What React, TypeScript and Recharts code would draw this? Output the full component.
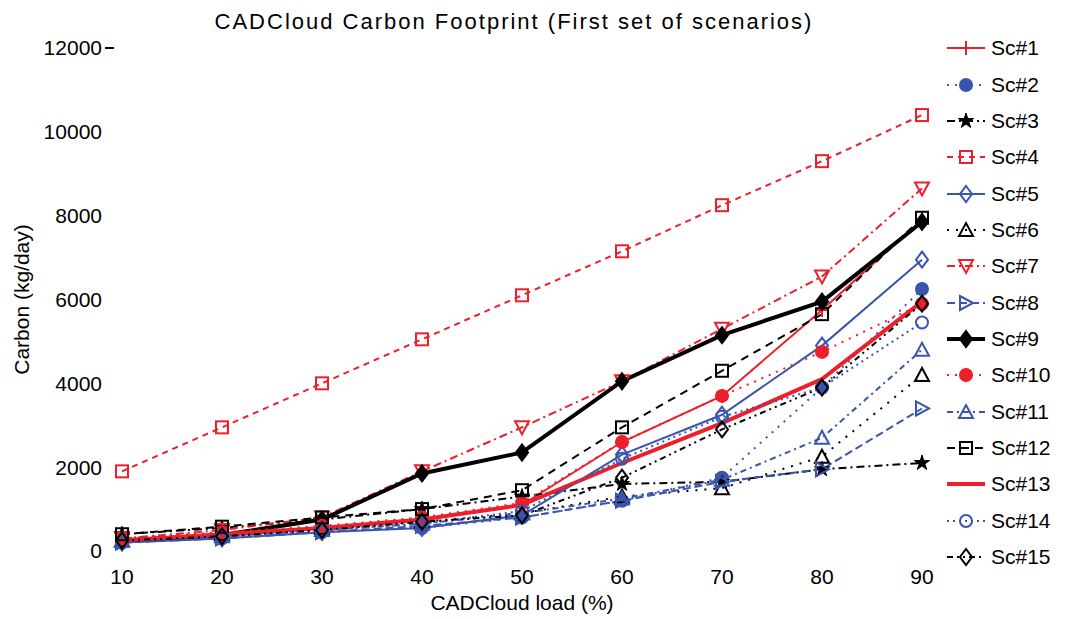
import React from 'react';
import { LineChart, Line, XAxis, YAxis, Legend } from 'recharts';

const loads = [10, 20, 30, 40, 50, 60, 70, 80, 90];
const xTicks = [10, 20, 30, 40, 50, 60, 70, 80, 90];
const yTicks = [0, 2000, 4000, 6000, 8000, 10000, 12000];

const sc1 = [200, 350, 550, 750, 1100, 2600, 3700, 5750, 7900];
const sc2 = [200, 300, 450, 550, 800, 1200, 1750, 3900, 6250];
const sc3 = [400, 550, 750, 1000, 1300, 1600, 1650, 1950, 2100];
const sc4 = [1900, 2950, 4000, 5050, 6100, 7150, 8250, 9300, 10400];
const sc5 = [200, 300, 450, 550, 850, 2300, 3250, 4900, 6950];
const sc6 = [250, 400, 550, 700, 900, 1300, 1500, 2250, 4200];
const sc7 = [300, 500, 800, 1900, 2950, 4050, 5300, 6550, 8650];
const sc8 = [200, 300, 450, 600, 800, 1200, 1650, 1950, 3400];
const sc9 = [250, 380, 750, 1850, 2350, 4050, 5150, 5950, 7850];
const sc10 = [300, 450, 600, 800, 1150, 2600, 3700, 4750, 5900];
const sc11 = [250, 350, 500, 650, 900, 1250, 1700, 2700, 4800];
const sc12 = [400, 580, 800, 1000, 1450, 2950, 4300, 5650, 7950];
const sc13 = [250, 400, 550, 750, 1100, 2100, 3050, 4100, 5950];
const sc14 = [200, 350, 500, 650, 950, 2200, 3200, 3900, 5450];
const sc15 = [250, 350, 500, 700, 850, 1750, 2900, 3900, 5900];

const RED = '#ec1f2a';
const BLUE = '#3a55ad';
const BLACK = '#000000';

type Shape = 'plus' | 'circle' | 'square' | 'diamond' | 'triangle' | 'triangleDown' | 'triangleRight' | 'star' | 'none';

interface SeriesDef {
  key: string;
  name: string;
  values: number[];
  color: string;
  width: number;
  dash?: string;
  shape: Shape;
  filled: boolean;
}

const series: SeriesDef[] = [
  { key: 'sc1', name: 'Sc#1', values: sc1, color: RED, width: 2, shape: 'plus', filled: false },
  { key: 'sc2', name: 'Sc#2', values: sc2, color: BLUE, width: 2, dash: '2 6', shape: 'circle', filled: true },
  { key: 'sc3', name: 'Sc#3', values: sc3, color: BLACK, width: 2, dash: '8 4 2 4', shape: 'star', filled: true },
  { key: 'sc4', name: 'Sc#4', values: sc4, color: RED, width: 2, dash: '6 5', shape: 'square', filled: false },
  { key: 'sc5', name: 'Sc#5', values: sc5, color: BLUE, width: 2, shape: 'diamond', filled: false },
  { key: 'sc6', name: 'Sc#6', values: sc6, color: BLACK, width: 2, dash: '2 7', shape: 'triangle', filled: false },
  { key: 'sc7', name: 'Sc#7', values: sc7, color: RED, width: 2, dash: '8 4 2 4', shape: 'triangleDown', filled: false },
  { key: 'sc8', name: 'Sc#8', values: sc8, color: BLUE, width: 2, dash: '8 4', shape: 'triangleRight', filled: false },
  { key: 'sc9', name: 'Sc#9', values: sc9, color: BLACK, width: 4, shape: 'diamond', filled: true },
  { key: 'sc10', name: 'Sc#10', values: sc10, color: RED, width: 2, dash: '2 6', shape: 'circle', filled: true },
  { key: 'sc11', name: 'Sc#11', values: sc11, color: BLUE, width: 2, dash: '6 4 2 4', shape: 'triangle', filled: false },
  { key: 'sc12', name: 'Sc#12', values: sc12, color: BLACK, width: 2, dash: '8 6', shape: 'square', filled: false },
  { key: 'sc13', name: 'Sc#13', values: sc13, color: RED, width: 4, shape: 'none', filled: false },
  { key: 'sc14', name: 'Sc#14', values: sc14, color: BLUE, width: 2, dash: '2 4', shape: 'circle', filled: false },
  { key: 'sc15', name: 'Sc#15', values: sc15, color: BLACK, width: 2, dash: '6 4 2 4 2 4', shape: 'diamond', filled: false },
];

const data = loads.map((x, i) => {
  const row: Record<string, number> = { x };
  series.forEach((s) => {
    row[s.key] = s.values[i];
  });
  return row;
});

function MarkerShape({ cx, cy, shape, color, filled }: { cx: number; cy: number; shape: Shape; color: string; filled: boolean }) {
  const fill = filled ? color : 'none';
  const sw = 2;
  const r = 6;
  switch (shape) {
    case 'plus':
      return (
        <g>
          <line x1={cx - r - 1} y1={cy} x2={cx + r + 1} y2={cy} stroke={color} strokeWidth={sw} />
          <line x1={cx} y1={cy - r - 1} x2={cx} y2={cy + r + 1} stroke={color} strokeWidth={sw} />
        </g>
      );
    case 'circle':
      return <circle cx={cx} cy={cy} r={r} fill={fill} stroke={color} strokeWidth={sw} />;
    case 'square':
      return <rect x={cx - r} y={cy - r} width={2 * r} height={2 * r} fill={fill} stroke={color} strokeWidth={sw} />;
    case 'diamond':
      return (
        <polygon
          points={`${cx},${cy - r - 2} ${cx + r},${cy} ${cx},${cy + r + 2} ${cx - r},${cy}`}
          fill={fill}
          stroke={color}
          strokeWidth={sw}
        />
      );
    case 'triangle':
      return (
        <polygon points={`${cx},${cy - r - 1} ${cx + r + 1},${cy + r} ${cx - r - 1},${cy + r}`} fill={fill} stroke={color} strokeWidth={sw} />
      );
    case 'triangleDown':
      return (
        <polygon points={`${cx},${cy + r + 1} ${cx + r + 1},${cy - r} ${cx - r - 1},${cy - r}`} fill={fill} stroke={color} strokeWidth={sw} />
      );
    case 'triangleRight':
      return (
        <polygon points={`${cx + r + 1},${cy} ${cx - r},${cy - r - 1} ${cx - r},${cy + r + 1}`} fill={fill} stroke={color} strokeWidth={sw} />
      );
    case 'star': {
      const pts: string[] = [];
      for (let k = 0; k < 10; k++) {
        const ang = (Math.PI / 5) * k - Math.PI / 2;
        const rr = k % 2 === 0 ? r + 2 : r * 0.5;
        pts.push(`${cx + rr * Math.cos(ang)},${cy + rr * Math.sin(ang)}`);
      }
      return <polygon points={pts.join(' ')} fill={fill} stroke={color} strokeWidth={1} />;
    }
    default:
      return <g />;
  }
}

const renderLegend = () => (
  <div style={{ width: 130, fontFamily: 'Liberation Sans, Arial, sans-serif', fontSize: 21 }}>
    {series.map((s) => (
      <div key={s.key} style={{ height: 36.36, display: 'flex', alignItems: 'center' }}>
        <svg width={44} height={30} style={{ display: 'block' }}>
          <line x1={2} y1={15} x2={40} y2={15} stroke={s.color} strokeWidth={s.width} strokeDasharray={s.dash} />
          <MarkerShape cx={21} cy={15} shape={s.shape} color={s.color} filled={s.filled} />
        </svg>
        <span style={{ color: '#000', marginLeft: 2 }}>{s.name}</span>
      </div>
    ))}
  </div>
);

const YTick = (props: any) => {
  const { x, y, payload } = props;
  return (
    <g>
      <text x={x} y={y} dy="0.355em" textAnchor="end" fill="#000" fontSize={21}>
        {payload.value}
      </text>
      {payload.value === 12000 ? <line x1={x + 3} y1={y} x2={x + 12} y2={y} stroke="#000" strokeWidth={2} /> : null}
    </g>
  );
};

export default function App() {
  return (
    <div style={{ position: 'relative', width: 1062, height: 611, fontFamily: 'Liberation Sans, Arial, sans-serif' }}>
      <div
        style={{
          position: 'absolute',
          top: 1,
          left: 0,
          width: 1012,
          textAlign: 'center',
          fontSize: 22,
          letterSpacing: 2,
          color: '#000',
          zIndex: 2,
        }}
      >
        CADCloud Carbon Footprint (First set of scenarios)
      </div>
      <LineChart width={1062} height={611} data={data} margin={{ top: 40, right: 18, bottom: 0, left: 10 }}>
        <XAxis
          dataKey="x"
          type="number"
          domain={[10, 90]}
          ticks={xTicks}
          axisLine={false}
          tickLine={false}
          tickSize={8}
          tickMargin={10}
          height={68}
          tick={{ fill: '#000', fontSize: 21 }}
          label={{ value: 'CADCloud load (%)', position: 'insideBottom', offset: 9, fill: '#000', fontSize: 21 }}
        />
        <YAxis
          type="number"
          domain={[0, 12000]}
          ticks={yTicks}
          axisLine={false}
          tickLine={false}
          tickSize={10}
          tickMargin={10}
          width={104}
          tick={YTick}
          label={{
            value: 'Carbon (kg/day)',
            angle: -90,
            position: 'insideLeft',
            offset: 4,
            fill: '#000',
            fontSize: 21,
            style: { textAnchor: 'middle' },
          }}
        />
        <Legend
          layout="vertical"
          align="right"
          verticalAlign="top"
          content={renderLegend}
          wrapperStyle={{ left: 937, top: 22, width: 130 }}
        />
        {series.map((s) => (
          <Line
            key={s.key}
            type="linear"
            dataKey={s.key}
            name={s.name}
            stroke={s.color}
            strokeWidth={s.width}
            strokeDasharray={s.dash}
            isAnimationActive={false}
            dot={(p: any) => (
              <g key={`${s.key}-${p.index}`}>
                <MarkerShape cx={p.cx} cy={p.cy} shape={s.shape} color={s.color} filled={s.filled} />
              </g>
            )}
            activeDot={false}
          />
        ))}
      </LineChart>
    </div>
  );
}
